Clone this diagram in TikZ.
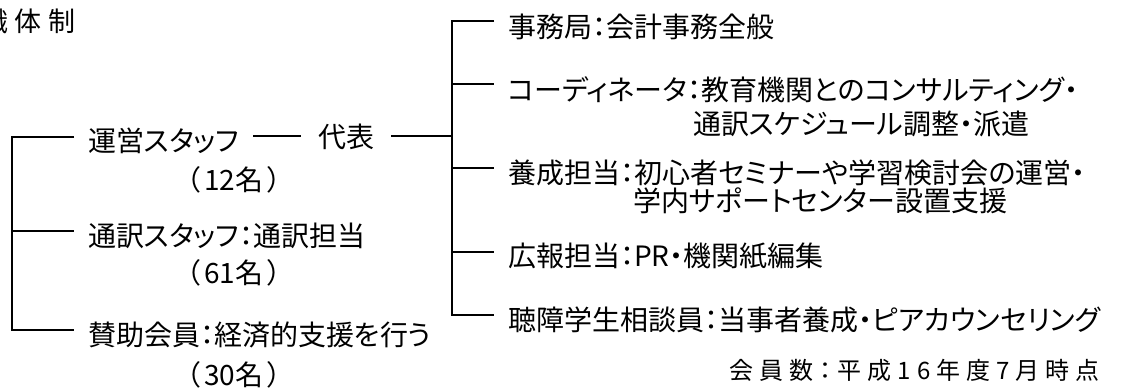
\documentclass[tikz,border=0pt]{standalone}
\usepackage{fontspec}
\newfontfamily\jp[RawFeature=+palt]{Noto Sans CJK JP}
\newfontfamily\jpsp[RawFeature=+palt,LetterSpace=25]{Noto Sans CJK JP}
\begin{document}
\begin{tikzpicture}[x=1pt,y=-1pt,
  lbl/.style={font=\jp\fontsize{28}{32}\selectfont, inner xsep=14pt, inner ysep=0pt, anchor=west},
  cont/.style={font=\jp\fontsize{28}{32}\selectfont, inner sep=0pt, anchor=west},
  num/.style={font=\jp\fontsize{28}{32}\selectfont, inner sep=0pt},
  note/.style={font=\jpsp\fontsize{24}{28}\selectfont, inner sep=0pt, anchor=east},
  ttl/.style={font=\jpsp\fontsize{27}{32}\selectfont, inner sep=0pt, anchor=west},
  conn/.style={line width=1.6pt, black}]
\useasboundingbox (0,0) rectangle (1123,389);
% title
\node[ttl] (title) at (-19,21) {織体制};
% left group
\node[lbl] (unei) at (74,141) {運営スタッフ};
\node[lbl, inner xsep=17pt] (daihyo) at (301,137) {代表};
\node[num] (n12) at (234,180) {（\kern4pt 12名\kern4pt）};
\node[lbl] (tsuyaku) at (74,236) {通訳スタッフ：通訳担当};
\node[num] (n61) at (234,273) {（\kern4pt 61名\kern4pt）};
\node[lbl] (sanjo) at (74,335) {賛助会員：経済的支援を行う};
\node[num] (n30) at (234,375) {（\kern4pt 30名\kern4pt）};
% right group
\node[lbl] (jimu) at (494,27) {事務局：会計事務全般};
\node[lbl] (coord) at (494,90) {コーディネータ：教育機関とのコンサルティング・};
\node[cont] (coord2) at (693,124) {通訳スケジュール調整・派遣};
\node[lbl] (yosei) at (494,173) {養成担当：初心者セミナーや学習検討会の運営・};
\node[cont] (yosei2) at (633,201) {学内サポートセンター設置支援};
\node[lbl] (koho) at (494,256) {広報担当：PR・機関紙編集};
\node[lbl] (chosho) at (494,320) {聴障学生相談員：当事者養成・ピアカウンセリング};
\node[note] (kaiin) at (1100,370) {会員数：平成16年度7月時点};
% connectors
\coordinate (LT) at (12,137);
\coordinate (LM) at (12,231);
\coordinate (LB) at (12,330);
\coordinate (D) at (0,136);
\coordinate (RJ) at (452,136);
\coordinate (RT) at (452,21);
\coordinate (R1) at (452,84);
\coordinate (R2) at (452,168);
\coordinate (R3) at (452,252);
\coordinate (RB) at (452,315);
\draw[conn] (LT -| unei.west) -- (LT) -- (LB) -- (LB -| sanjo.west);
\draw[conn] (LM) -- (LM -| tsuyaku.west);
\draw[conn] (unei.east |- D) -- (daihyo.west |- D);
\draw[conn] (daihyo.east |- D) -- (RJ);
\draw[conn] (RT -| jimu.west) -- (RT) -- (RB) -- (RB -| chosho.west);
\draw[conn] (R1) -- (R1 -| coord.west);
\draw[conn] (R2) -- (R2 -| yosei.west);
\draw[conn] (R3) -- (R3 -| koho.west);
\end{tikzpicture}
\end{document}
